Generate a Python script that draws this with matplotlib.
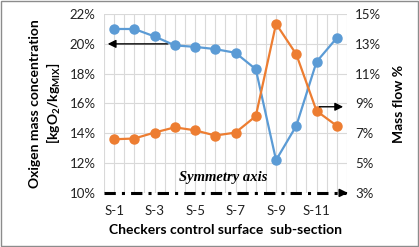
import matplotlib.pyplot as plt
import numpy as np
from matplotlib.ticker import FuncFormatter

plt.rcParams['font.family'] = ['Lato', 'DejaVu Sans']
plt.rcParams['mathtext.default'] = 'regular'

sections = ["S-%d" % i for i in range(1, 13)]
oxygen = [21.0, 21.0, 20.5, 19.9, 19.8, 19.65, 19.4, 18.3, 12.2, 14.5, 18.8, 20.4]
massflow = [6.6, 6.65, 7.05, 7.4, 7.2, 6.85, 7.05, 8.15, 14.35, 12.3, 8.5, 7.5]
left_ticks = [10, 12, 14, 16, 18, 20, 22]
right_ticks = [3, 5, 7, 9, 11, 13, 15]

blue = "#5B9BD5"
orange = "#ED7D31"
grid = "#D9D9D9"

fig = plt.figure(figsize=(4.19, 2.47), dpi=100)
ax = fig.add_axes([0.248, 0.219, 0.58, 0.724])
ax2 = ax.twinx()

x = np.arange(len(sections))
ax.plot(x, oxygen, color=blue, lw=1.6, marker="o", ms=6.5, zorder=3)
ax2.plot(x, massflow, color=orange, lw=1.6, marker="o", ms=6.5, zorder=3)

ax.set_xlim(-0.5, 11.5)
ax.set_ylim(10, 22)
ax2.set_ylim(3, 15)
ax.set_xticks(x[::2])
ax.set_xticklabels(sections[::2])
ax.set_xticks(np.arange(-0.5, 12, 0.5), minor=True)
ax.set_yticks(left_ticks)
ax2.set_yticks(right_ticks)
ax.yaxis.set_major_formatter(FuncFormatter(lambda v, p: "%d%%" % v))
ax2.yaxis.set_major_formatter(FuncFormatter(lambda v, p: "%d%%" % v))

ax.grid(True, which="both", axis="x", color=grid, lw=0.8)
ax.grid(True, which="major", axis="y", color=grid, lw=0.8)
ax.set_axisbelow(True)
for a in (ax, ax2):
    for s in a.spines.values():
        s.set_visible(False)
    a.tick_params(length=0, labelsize=9.5, colors="#222222", which="both")
ax.tick_params(axis="y", pad=6)
ax2.tick_params(axis="y", pad=6)
ax.tick_params(axis="x", pad=9)

ax.set_xlabel("Checkers control surface  sub-section", fontsize=10,
              fontweight="bold", labelpad=5)
ax.set_ylabel("Oxigen mass concentration\n[kgO$_2$/kg$_{MIX}$]", fontsize=10,
              fontweight="bold", labelpad=5, linespacing=1.25)
ax2.set_ylabel("Mass flow %", fontsize=10, fontweight="bold", labelpad=8)

# symmetry axis
ax.plot([-0.5, 11.45], [10, 10], color="black", lw=2.2,
        ls=(0, (3.7, 2, 1, 2)), clip_on=False, zorder=4)
ax.annotate("", xy=(11.68, 10), xytext=(11.3, 10),
            arrowprops=dict(arrowstyle="-|>", color="black", lw=1.2,
                            mutation_scale=12),
            annotation_clip=False, zorder=4)
ax.text(5.4, 10.6, "Symmetry axis", fontsize=10.5, fontweight="bold",
        fontstyle="italic", family="Liberation Serif", ha="center", va="bottom")

# arrows pointing to axes
ax.annotate("", xy=(-0.45, 20), xytext=(2.8, 20),
            arrowprops=dict(arrowstyle="-|>", color="black", lw=1.0,
                            mutation_scale=12), zorder=2)
ax2.annotate("", xy=(11.45, 8.78), xytext=(10.0, 8.78),
             arrowprops=dict(arrowstyle="-|>", color="black", lw=1.0,
                             mutation_scale=12), annotation_clip=False, zorder=5)

fig.patches.append(plt.Rectangle((0.002, 0.004), 0.995, 0.992, transform=fig.transFigure,
                                 fill=False, edgecolor="#8C8C8C", lw=1))

fig.savefig("out.png", dpi=100)
